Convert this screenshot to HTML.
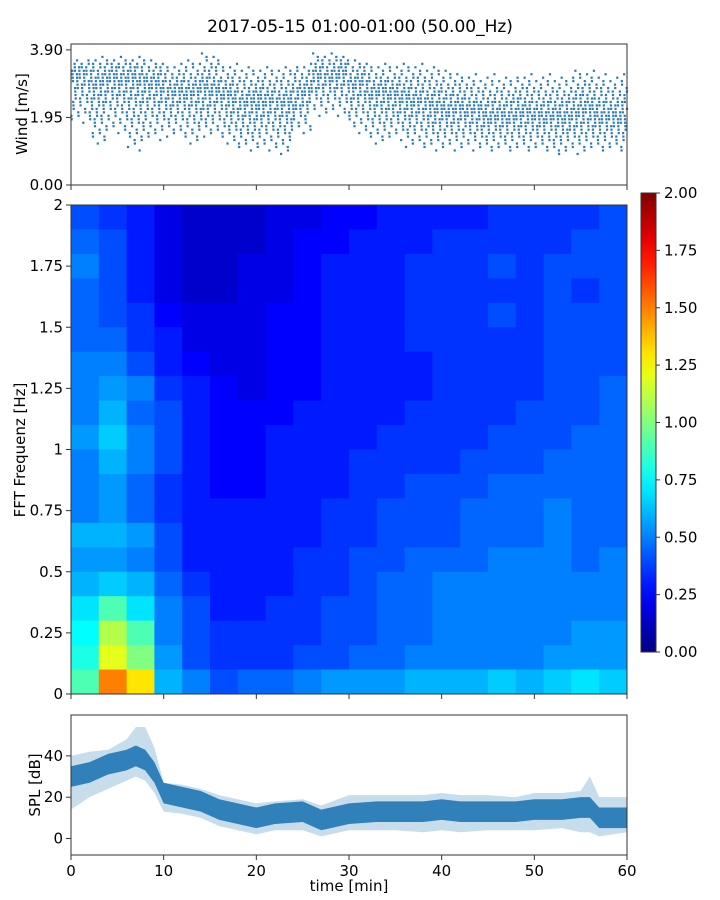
<!DOCTYPE html>
<html><head><meta charset="utf-8">
<style>
body{margin:0;background:#fff;}
svg{display:block;font-family:"DejaVu Sans","Liberation Sans",sans-serif;}
</style></head>
<body>
<svg id="fig" width="720" height="900" viewBox="0 0 720 900" xmlns="http://www.w3.org/2000/svg">
<rect width="720" height="900" fill="#fff"/>
<text x="360" y="32" font-size="17" text-anchor="middle" fill="#000">2017-05-15 01:00-01:00 (50.00_Hz)</text>
<g id="wind"></g>
<g id="spec"></g>
<g id="cbar"></g>
<g id="spl"></g>
</svg>
<script>
// ---- data ----
const windMinutes = [0,2,4,6,8,10,12,14,16,18,20,22,24,26,28,30,32,34,36,38,40,42,44,46,48,50,52,54,56,58];
const windHigh = [3.6,3.7,3.7,3.7,3.6,3.5,3.6,3.8,3.5,3.4,3.4,3.4,3.5,3.8,3.8,3.6,3.5,3.5,3.5,3.4,3.3,3.2,3.2,3.1,3.2,3.2,3.1,3.3,3.3,3.2];
const windMid = [3.3,3.1,3.2,3.2,3.0,2.8,2.7,2.8,2.6,2.4,2.5,2.4,2.8,3.2,3.3,3.0,2.8,2.6,2.5,2.3,2.2,2.2,2.0,2.0,2.1,2.0,2.0,2.2,2.0,2.0];
const windLow = [1.8,1.2,1.5,1.0,1.3,1.4,1.2,1.4,1.2,1.0,1.0,0.9,1.5,2.0,2.0,1.5,1.2,1.3,1.1,1.0,1.0,1.0,1.0,1.0,1.0,1.0,0.9,0.9,1.0,1.0];

const specTimes = [0,3,6,9,12,15,18,21,24,27,30,33,36,39,42,45,48,51,54,57];
const specFreqs = [1.9,1.8,1.7,1.6,1.5,1.4,1.3,1.2,1.1,1.0,0.9,0.8,0.7,0.6,0.5,0.4,0.3,0.2,0.1,0.0];
const specValues = [
[0.4,0.35,0.3,0.2,0.15,0.15,0.15,0.2,0.2,0.25,0.25,0.3,0.3,0.3,0.3,0.35,0.35,0.35,0.35,0.4],
[0.45,0.4,0.3,0.2,0.15,0.15,0.15,0.2,0.25,0.25,0.3,0.3,0.3,0.35,0.35,0.35,0.35,0.35,0.4,0.4],
[0.5,0.4,0.3,0.2,0.15,0.15,0.2,0.2,0.25,0.3,0.3,0.3,0.35,0.35,0.35,0.4,0.35,0.4,0.4,0.4],
[0.45,0.4,0.3,0.2,0.15,0.15,0.2,0.2,0.25,0.3,0.3,0.3,0.35,0.35,0.35,0.35,0.35,0.4,0.35,0.4],
[0.45,0.4,0.35,0.25,0.2,0.2,0.2,0.25,0.25,0.3,0.3,0.3,0.35,0.35,0.35,0.4,0.35,0.4,0.4,0.4],
[0.45,0.45,0.35,0.3,0.2,0.2,0.2,0.25,0.25,0.3,0.3,0.3,0.35,0.35,0.35,0.35,0.35,0.4,0.4,0.4],
[0.5,0.5,0.4,0.3,0.25,0.2,0.2,0.25,0.25,0.3,0.3,0.3,0.3,0.35,0.35,0.35,0.35,0.4,0.4,0.4],
[0.5,0.55,0.5,0.35,0.3,0.25,0.2,0.25,0.25,0.3,0.3,0.3,0.3,0.35,0.35,0.35,0.35,0.4,0.4,0.45],
[0.5,0.6,0.45,0.4,0.3,0.25,0.25,0.25,0.3,0.3,0.3,0.3,0.35,0.35,0.35,0.35,0.4,0.4,0.4,0.45],
[0.55,0.65,0.5,0.4,0.3,0.25,0.25,0.3,0.3,0.3,0.3,0.35,0.35,0.35,0.35,0.4,0.4,0.4,0.45,0.45],
[0.5,0.6,0.5,0.4,0.3,0.25,0.25,0.3,0.3,0.3,0.35,0.35,0.35,0.35,0.4,0.4,0.4,0.45,0.45,0.45],
[0.5,0.55,0.45,0.35,0.3,0.25,0.25,0.3,0.3,0.3,0.35,0.35,0.4,0.4,0.4,0.45,0.45,0.45,0.45,0.45],
[0.5,0.55,0.45,0.35,0.3,0.3,0.3,0.3,0.3,0.35,0.35,0.4,0.4,0.4,0.45,0.45,0.45,0.5,0.45,0.45],
[0.6,0.6,0.55,0.4,0.3,0.3,0.3,0.3,0.3,0.35,0.35,0.4,0.4,0.4,0.45,0.45,0.45,0.5,0.45,0.45],
[0.55,0.55,0.5,0.4,0.3,0.3,0.3,0.3,0.35,0.35,0.4,0.4,0.45,0.45,0.45,0.5,0.5,0.5,0.45,0.5],
[0.6,0.65,0.6,0.45,0.35,0.3,0.3,0.3,0.35,0.35,0.4,0.45,0.45,0.5,0.5,0.5,0.5,0.5,0.5,0.5],
[0.7,0.9,0.7,0.5,0.4,0.3,0.3,0.35,0.35,0.4,0.4,0.45,0.45,0.5,0.5,0.5,0.5,0.5,0.5,0.5],
[0.75,1.1,0.9,0.5,0.4,0.35,0.35,0.35,0.35,0.4,0.4,0.45,0.45,0.5,0.5,0.5,0.5,0.5,0.55,0.55],
[0.8,1.2,1.0,0.55,0.4,0.35,0.35,0.35,0.4,0.4,0.45,0.45,0.5,0.5,0.5,0.5,0.5,0.55,0.55,0.55],
[0.9,1.5,1.3,0.6,0.5,0.4,0.45,0.45,0.5,0.55,0.55,0.55,0.6,0.6,0.6,0.65,0.6,0.65,0.7,0.65]
];
const specYTicks = ["0","0.25","0.5","0.75","1","1.25","1.5","1.75","2"];
const cbarTicks = ["0.00","0.25","0.50","0.75","1.00","1.25","1.50","1.75","2.00"];

const splTimes = [0,2,4,6,7,8,9,10,12,14,16,18,20,22,25,27,30,33,35,38,40,42,45,48,50,53,55,56,57,60];
const splMean = [30,32,36,38,40,38,32,22,20,18,14,12,10,12,13,9,12,13,13,13,14,13,13,13,14,14,15,15,10,10];
const splLow = [14,20,24,28,30,28,22,13,12,10,6,4,2,4,4,1,4,4,4,3,4,3,4,4,4,5,3,3,1,3];
const splHigh = [40,42,43,48,54,54,44,27,26,24,21,19,17,18,19,16,21,21,21,21,22,21,21,20,22,22,23,30,20,20];
const timeTicks = [0,10,20,30,40,50,60];
const splTicks = [0,20,40];
const windTicks = [0.00,1.95,3.90];

const NS="http://www.w3.org/2000/svg";
function mk(tag,attrs,parent){const e=document.createElementNS(NS,tag);for(const k in attrs)e.setAttribute(k,attrs[k]);parent.appendChild(e);return e;}
const X0=71,X1=627;
const xS=t=>X0+(X1-X0)*t/60;
function jet(v){v=Math.max(0,Math.min(1,v));
 const r=Math.max(0,Math.min(1,1.5-Math.abs(4*v-3)));
 const g=Math.max(0,Math.min(1,1.5-Math.abs(4*v-2)));
 const b=Math.max(0,Math.min(1,1.5-Math.abs(4*v-1)));
 return `rgb(${Math.round(r*255)},${Math.round(g*255)},${Math.round(b*255)})`;}

function xTicks(g,yb,labels){
 timeTicks.forEach(t=>{
  const l=mk('line',{x1:xS(t),x2:xS(t),y1:yb,y2:yb+5,stroke:'#333','stroke-width':1},g);
  
  if(labels){const tx=mk('text',{x:xS(t),y:yb+21,'font-size':15,'text-anchor':'middle'},g);tx.textContent=t;
   }
 });
}

// ---- wind ----
(function(){
 const g=document.getElementById('wind');
 const Y0=185,Y1=44,yMax=4.07;
 const yS=v=>Y0-(Y0-Y1)*v/yMax;
 for(let i=0;i<windMinutes.length;i++){
  const t0=windMinutes[i];
  for(let lv=Math.round(windLow[i]*10);lv<=Math.round(windHigh[i]*10);lv++){
   const v=lv/10;
   const span=v>=windMid[i]?(windHigh[i]-windMid[i]):(windMid[i]-windLow[i]);
   const w=1-Math.abs(v-windMid[i])/(span+0.05);
   const n=Math.max(1,Math.round(1+4*w));
   for(let k=0;k<n;k++){
    const t=t0+2*((k*0.618+lv*0.37)%1);
    const d=mk('rect',{x:xS(t)-1,y:yS(v)-1,width:2.2,height:2.2,fill:'#2a7ab8'},g);
    
   }
  }
 }
 const f=mk('rect',{x:X0,y:Y1,width:X1-X0,height:Y0-Y1,fill:'none',stroke:'#333','stroke-width':1},g);
 
 windTicks.forEach(v=>{
  mk('line',{x1:X0-5,x2:X0,y1:yS(v),y2:yS(v),stroke:'#333'},g);
  const tx=mk('text',{x:X0-8,y:yS(v)+5,'font-size':15,'text-anchor':'end'},g);tx.textContent=v.toFixed(2);
  
 });
 xTicks(g,Y0,false);
 const yl=mk('text',{x:27,y:114,'font-size':15,'text-anchor':'middle',transform:'rotate(-90 27 114)'},g);
 yl.textContent='Wind [m/s]';
})();

// ---- spectrogram ----
(function(){
 const g=document.getElementById('spec');
 const Y0=694,Y1=205;
 const yS=f=>Y0-(Y0-Y1)*f/2;
 for(let r=0;r<specFreqs.length;r++){
  for(let c=0;c<specTimes.length;c++){
   const t=specTimes[c],f=specFreqs[r];
   const rc=mk('rect',{x:xS(t),y:yS(f+0.1),width:xS(t+3)-xS(t)+0.5,height:yS(f)-yS(f+0.1)+0.5,fill:jet(specValues[r][c]/2)},g);
   
  }
 }
 const f=mk('rect',{x:X0,y:Y1,width:X1-X0,height:Y0-Y1,fill:'none',stroke:'#333'},g);
 
 specYTicks.forEach((s,i)=>{
  const y=yS(i*0.25);
  mk('line',{x1:X0-5,x2:X0,y1:y,y2:y,stroke:'#333'},g);
  const tx=mk('text',{x:X0-8,y:y+5,'font-size':15,'text-anchor':'end'},g);tx.textContent=s;
  
 });
 xTicks(g,Y0,false);
 const yl=mk('text',{x:25,y:450,'font-size':15,'text-anchor':'middle',transform:'rotate(-90 25 450)'},g);
 yl.textContent='FFT Frequenz [Hz]';
})();

// ---- colorbar ----
(function(){
 const g=document.getElementById('cbar');
 const cx=641,cw=15,Y0=652,Y1=193;
 const defs=mk('defs',{},g);
 const lg=mk('linearGradient',{id:'jetg',x1:0,y1:1,x2:0,y2:0},defs);
 for(let i=0;i<=20;i++)mk('stop',{offset:i/20,'stop-color':jet(i/20)},lg);
 const r=mk('rect',{x:cx,y:Y1,width:cw,height:Y0-Y1,fill:'url(#jetg)',stroke:'#333'},g);
 
 cbarTicks.forEach((s,i)=>{
  const y=Y0-(Y0-Y1)*i/8;
  mk('line',{x1:cx+cw,x2:cx+cw+4,y1:y,y2:y,stroke:'#333'},g);
  const tx=mk('text',{x:cx+cw+8,y:y+5,'font-size':15},g);tx.textContent=s;
  
 });
})();

// ---- SPL ----
(function(){
 const g=document.getElementById('spl');
 const Y0=855,Y1=715,yMin=-8,yMax=59.8;
 const yS=v=>Y0-(Y0-Y1)*(v-yMin)/(yMax-yMin);
 let p1=splTimes.map((t,i)=>xS(t)+','+yS(splHigh[i])).join(' ')+' '+splTimes.map((t,i)=>xS(t)+','+yS(splLow[i])).reverse().join(' ');
 const a=mk('polygon',{points:p1,fill:'#1f77b4','fill-opacity':0.25},g);
 
 let p2=splTimes.map((t,i)=>xS(t)+','+yS(splMean[i]+5)).join(' ')+' '+splTimes.map((t,i)=>xS(t)+','+yS(splMean[i]-5)).reverse().join(' ');
 const b=mk('polygon',{points:p2,fill:'#1f77b4','fill-opacity':0.9},g);
 
 const f=mk('rect',{x:X0,y:Y1,width:X1-X0,height:Y0-Y1,fill:'none',stroke:'#333'},g);
 
 splTicks.forEach(v=>{
  mk('line',{x1:X0-5,x2:X0,y1:yS(v),y2:yS(v),stroke:'#333'},g);
  const tx=mk('text',{x:X0-8,y:yS(v)+5,'font-size':15,'text-anchor':'end'},g);tx.textContent=v;
  
 });
 xTicks(g,Y0,true);
 const xl=mk('text',{x:349,y:891,'font-size':15,'text-anchor':'middle'},g);
 xl.textContent='time [min]';
 const yl=mk('text',{x:40,y:785,'font-size':15,'text-anchor':'middle',transform:'rotate(-90 40 785)'},g);
 yl.textContent='SPL [dB]';
})();
</script>
</body></html>
